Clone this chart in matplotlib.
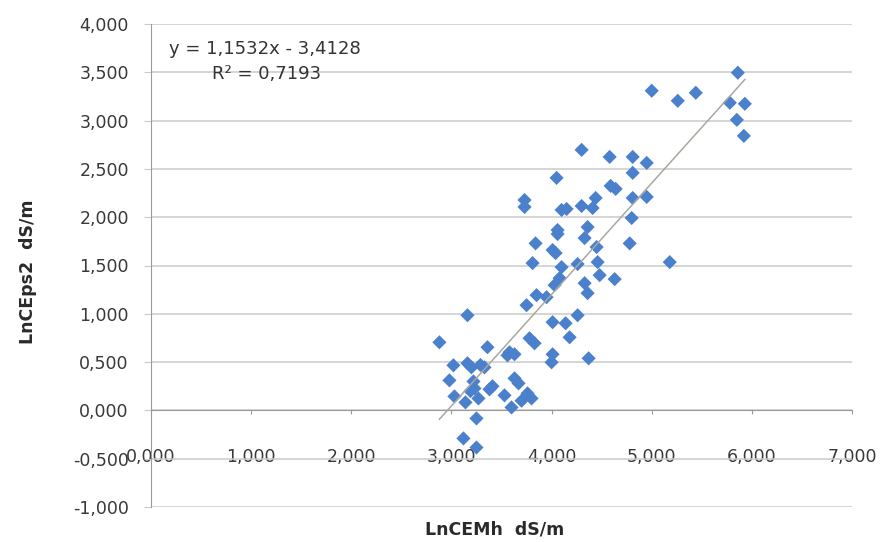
import numpy as np
import matplotlib.pyplot as plt
from matplotlib.ticker import FuncFormatter

# LnCEMh (x) vs LnCEps2 (y), dS/m
lncemh = [5.86, 5.00, 5.44, 5.26, 5.78, 5.93, 5.85, 5.92, 4.30, 4.58,
          4.81, 4.95, 4.81, 4.05, 4.59, 4.64, 4.81, 4.95, 4.44, 3.73,
          3.73, 4.30, 4.41, 4.10, 4.15, 4.36, 4.80, 4.06, 4.06, 4.33,
          4.78, 3.84, 4.01, 4.04, 4.45, 3.81, 4.10, 4.26, 4.46, 5.18,
          4.48, 4.63, 4.08, 4.03, 4.33, 4.36, 3.95, 3.85, 3.75, 3.16,
          4.26, 4.01, 4.14, 4.18, 2.88, 3.78, 3.83, 3.36, 3.58, 3.63,
          4.01, 4.00, 4.37, 3.02, 3.20, 3.33, 3.16, 2.98, 3.63, 3.67,
          3.23, 3.38, 3.76, 3.80, 3.03, 3.14, 3.27, 3.53, 3.60, 3.25,
          3.12, 3.25, 3.29, 3.41, 3.19, 3.56, 3.22, 3.70]
lnceps2 = [3.496, 3.309, 3.288, 3.205, 3.185, 3.174, 3.008, 2.842, 2.697, 2.624,
           2.624, 2.562, 2.459, 2.407, 2.324, 2.293, 2.199, 2.210, 2.199, 2.178,
           2.106, 2.116, 2.095, 2.075, 2.085, 1.898, 1.992, 1.867, 1.826, 1.784,
           1.729, 1.729, 1.660, 1.629, 1.691, 1.525, 1.483, 1.515, 1.535, 1.535,
           1.400, 1.359, 1.369, 1.297, 1.317, 1.214, 1.172, 1.193, 1.089, 0.985,
           0.985, 0.913, 0.902, 0.757, 0.705, 0.747, 0.695, 0.654, 0.602, 0.581,
           0.581, 0.498, 0.539, 0.467, 0.446, 0.446, 0.488, 0.311, 0.332, 0.280,
           0.228, 0.218, 0.176, 0.124, 0.145, 0.083, 0.124, 0.156, 0.031, -0.083,
           -0.290, -0.384, 0.470, 0.250, 0.200, 0.570, 0.300, 0.100]

slope = 1.1532
intercept = -3.4128
r2 = 0.7193

plt.rcParams['font.family'] = 'DejaVu Sans'

fig = plt.figure(figsize=(8.83, 5.42), dpi=100)
ax = fig.add_axes([151/883, 1-507/542, 701/883, 483/542])

ax.scatter(lncemh, lnceps2, marker='D', s=52, color='#4A80CC', edgecolors='none', zorder=3)

xs = np.array([min(lncemh), max(lncemh)])
ax.plot(xs, slope*xs + intercept, color='#a8a8a0', lw=1.1, zorder=4)

ax.set_xlim(0, 7)
ax.set_ylim(-1, 4)
ax.set_xticks(np.arange(0, 7.01, 1))
ax.set_yticks(np.arange(-1, 4.01, 0.5))
fmt = FuncFormatter(lambda v, p: f"{v:.3f}".replace('.', ','))
ax.xaxis.set_major_formatter(fmt)
ax.yaxis.set_major_formatter(fmt)

ax.grid(axis='y', color='#cacaca', lw=1.1, zorder=0)
ax.set_axisbelow(True)
for s in ['top', 'right']:
    ax.spines[s].set_visible(False)
ax.spines['bottom'].set_position(('data', 0))
ax.spines['bottom'].set_color('#9a9a9a')
ax.spines['left'].set_color('#9a9a9a')
ax.tick_params(axis='x', direction='out', length=3, color='#9a9a9a', pad=24,
               labelsize=12.5, labelcolor='#383838')
ax.tick_params(axis='y', direction='out', length=5, color='#cacaca', pad=11,
               labelsize=12.5, labelcolor='#383838')

fig.text(495/883, 1-530/542, 'LnCEMh  dS/m', ha='center', va='center',
         fontsize=12.5, fontweight='bold', color='#2a2a2a')
fig.text(28/883, 1-272/542, 'LnCEps2  dS/m', ha='center', va='center',
         rotation=90, fontsize=12.5, fontweight='bold', color='#2a2a2a')

fig.text(265/883, 1-49/542, f"y = {slope:.4f}x - {abs(intercept):.4f}".replace('.', ','),
         ha='center', va='center', fontsize=13, color='#333333')
fig.text(267/883, 1-74/542, f"R² = {r2:.4f}".replace('.', ','),
         ha='center', va='center', fontsize=13, color='#333333')

fig.savefig('out.png', dpi=100)
